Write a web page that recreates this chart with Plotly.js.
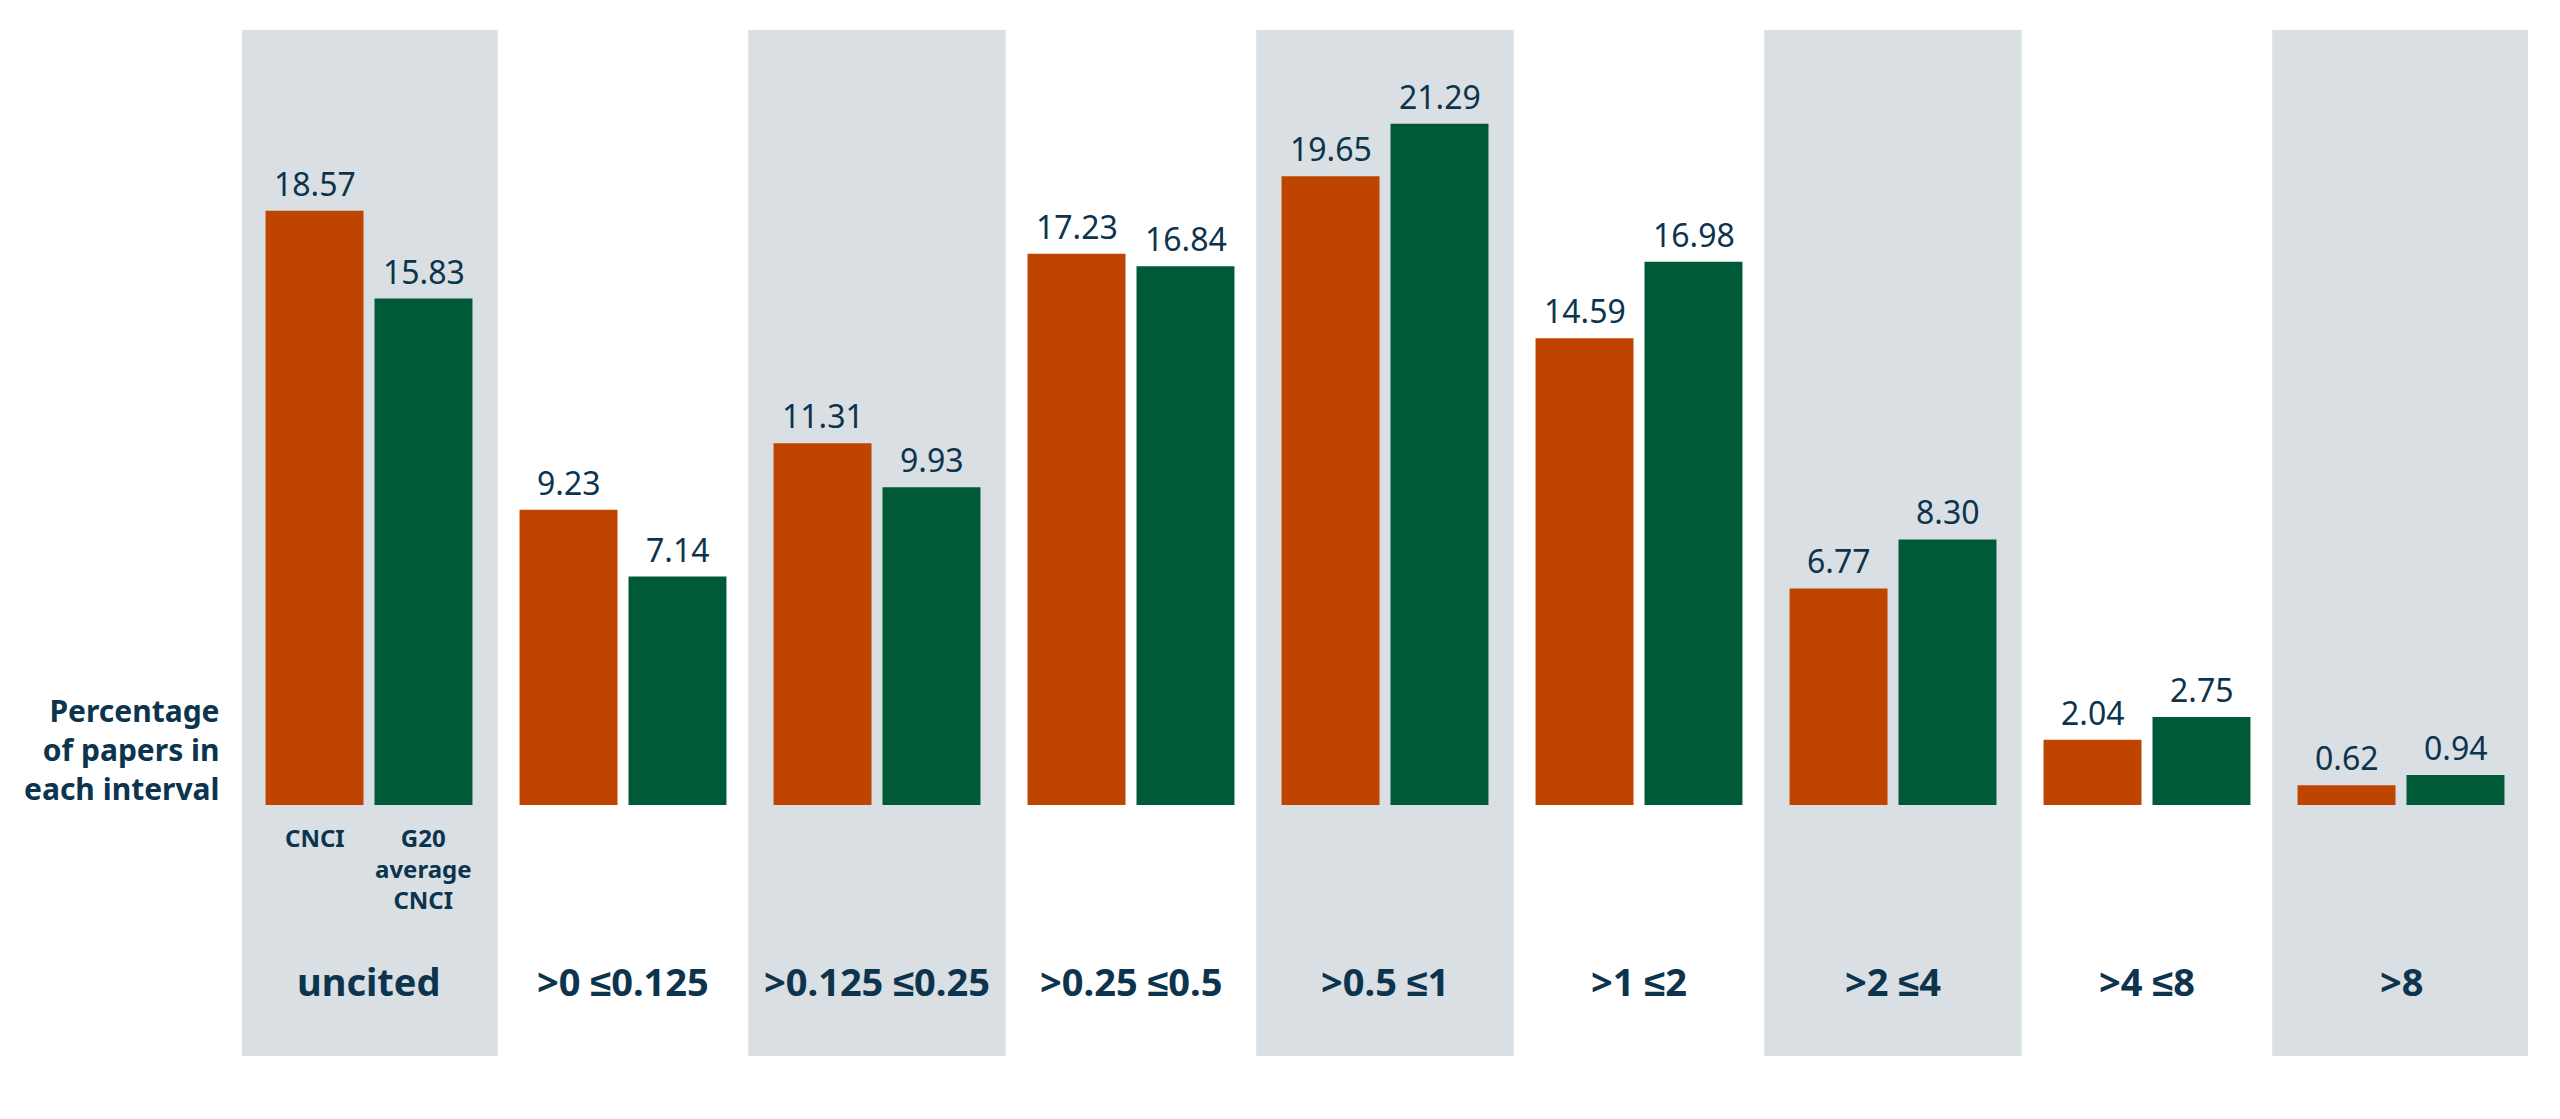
<!DOCTYPE html>
<html>
<head>
<meta charset="utf-8">
<script src="https://cdn.plot.ly/plotly-3.0.1.min.js"></script>
<style>
  html, body { margin: 0; padding: 0; background: #ffffff; }
  #chart { width: 2560px; height: 1119px; }
</style>
</head>
<body>
<div id="chart"></div>
<script>
const categories = ['uncited', '>0 ≤0.125', '>0.125 ≤0.25', '>0.25 ≤0.5', '>0.5 ≤1', '>1 ≤2', '>2 ≤4', '>4 ≤8', '>8'];
const cnciValues = [18.57, 9.23, 11.31, 17.23, 19.65, 14.59, 6.77, 2.04, 0.62];
const g20Values = [15.83, 7.14, 9.93, 16.84, 21.29, 16.98, 8.30, 2.75, 0.94];
const seriesNames = ['CNCI', 'G20<br>average<br>CNCI'];
const yAxisLabel = 'Percentage<br>of papers in<br>each interval';

const ORANGE = 'rgb(191,68,0)';
const GREEN = 'rgb(0,90,56)';
const BAND = 'rgb(217,223,227)';
const TEXT = 'rgb(12,52,78)';
const FONT = 'Noto Sans, sans-serif';

const xIdx = categories.map((c, i) => i);

const traces = [
  { type: 'bar', name: 'CNCI', x: xIdx, y: cnciValues, marker: { color: ORANGE }, hoverinfo: 'skip' },
  { type: 'bar', name: 'G20 average CNCI', x: xIdx, y: g20Values, marker: { color: GREEN }, hoverinfo: 'skip' }
];

const shapes = [];
xIdx.forEach(i => {
  if (i % 2 === 0) {
    shapes.push({ type: 'rect', xref: 'x', yref: 'paper', x0: i - 0.507, x1: i + 0.507, y0: 0, y1: 1,
      fillcolor: BAND, line: { width: 0 }, layer: 'below' });
  }
});

const annotations = [];
const OFF = 54.5;
xIdx.forEach(i => {
  annotations.push({ x: i, y: cnciValues[i], xref: 'x', yref: 'y', text: cnciValues[i].toFixed(2),
    showarrow: false, xanchor: 'center', yanchor: 'bottom', xshift: -OFF, yshift: 4,
    font: { family: FONT, size: 32, color: TEXT } });
  annotations.push({ x: i, y: g20Values[i], xref: 'x', yref: 'y', text: g20Values[i].toFixed(2),
    showarrow: false, xanchor: 'center', yanchor: 'bottom', xshift: OFF, yshift: 4,
    font: { family: FONT, size: 32, color: TEXT } });
  annotations.push({ x: i, y: -5.5, xref: 'x', yref: 'y', text: '<b>' + categories[i] + '</b>',
    showarrow: false, xanchor: 'center', yanchor: 'middle',
    font: { family: FONT, size: 38, color: TEXT } });
});
// series labels under the first group
annotations.push({ x: 0, y: 0, xref: 'x', yref: 'y', text: '<b>' + seriesNames[0] + '</b>',
  showarrow: false, xanchor: 'center', yanchor: 'top', xshift: -OFF, yshift: -14,
  font: { family: FONT, size: 24, color: TEXT } });
annotations.push({ x: 0, y: 0, xref: 'x', yref: 'y', text: '<b>' + seriesNames[1] + '</b>',
  showarrow: false, xanchor: 'center', yanchor: 'top', xshift: OFF, yshift: -14,
  font: { family: FONT, size: 24, color: TEXT } });
// y-axis label
annotations.push({ x: 0, y: 0, xref: 'paper', yref: 'y', text: '<b>' + yAxisLabel + '</b>',
  showarrow: false, xanchor: 'right', yanchor: 'bottom', align: 'right', xshift: -20, yshift: -6,
  font: { family: FONT, size: 30, color: TEXT } });

const layout = {
  width: 2560, height: 1119,
  margin: { l: 242, r: 32, t: 30, b: 63, pad: 0 },
  paper_bgcolor: '#ffffff', plot_bgcolor: 'rgba(0,0,0,0)',
  barmode: 'group', bargap: 0.142, bargroupgap: 0.101,
  showlegend: false,
  xaxis: { range: [-0.5, 8.5], showticklabels: false, showgrid: false, zeroline: false, showline: false, ticks: '', fixedrange: true },
  yaxis: { range: [-7.84, 24.22], showticklabels: false, showgrid: false, zeroline: false, showline: false, ticks: '', fixedrange: true },
  shapes: shapes,
  annotations: annotations,
  hovermode: false,
  font: { family: FONT, color: TEXT }
};

Plotly.newPlot('chart', traces, layout, { displayModeBar: false, staticPlot: true });
</script>
</body>
</html>
